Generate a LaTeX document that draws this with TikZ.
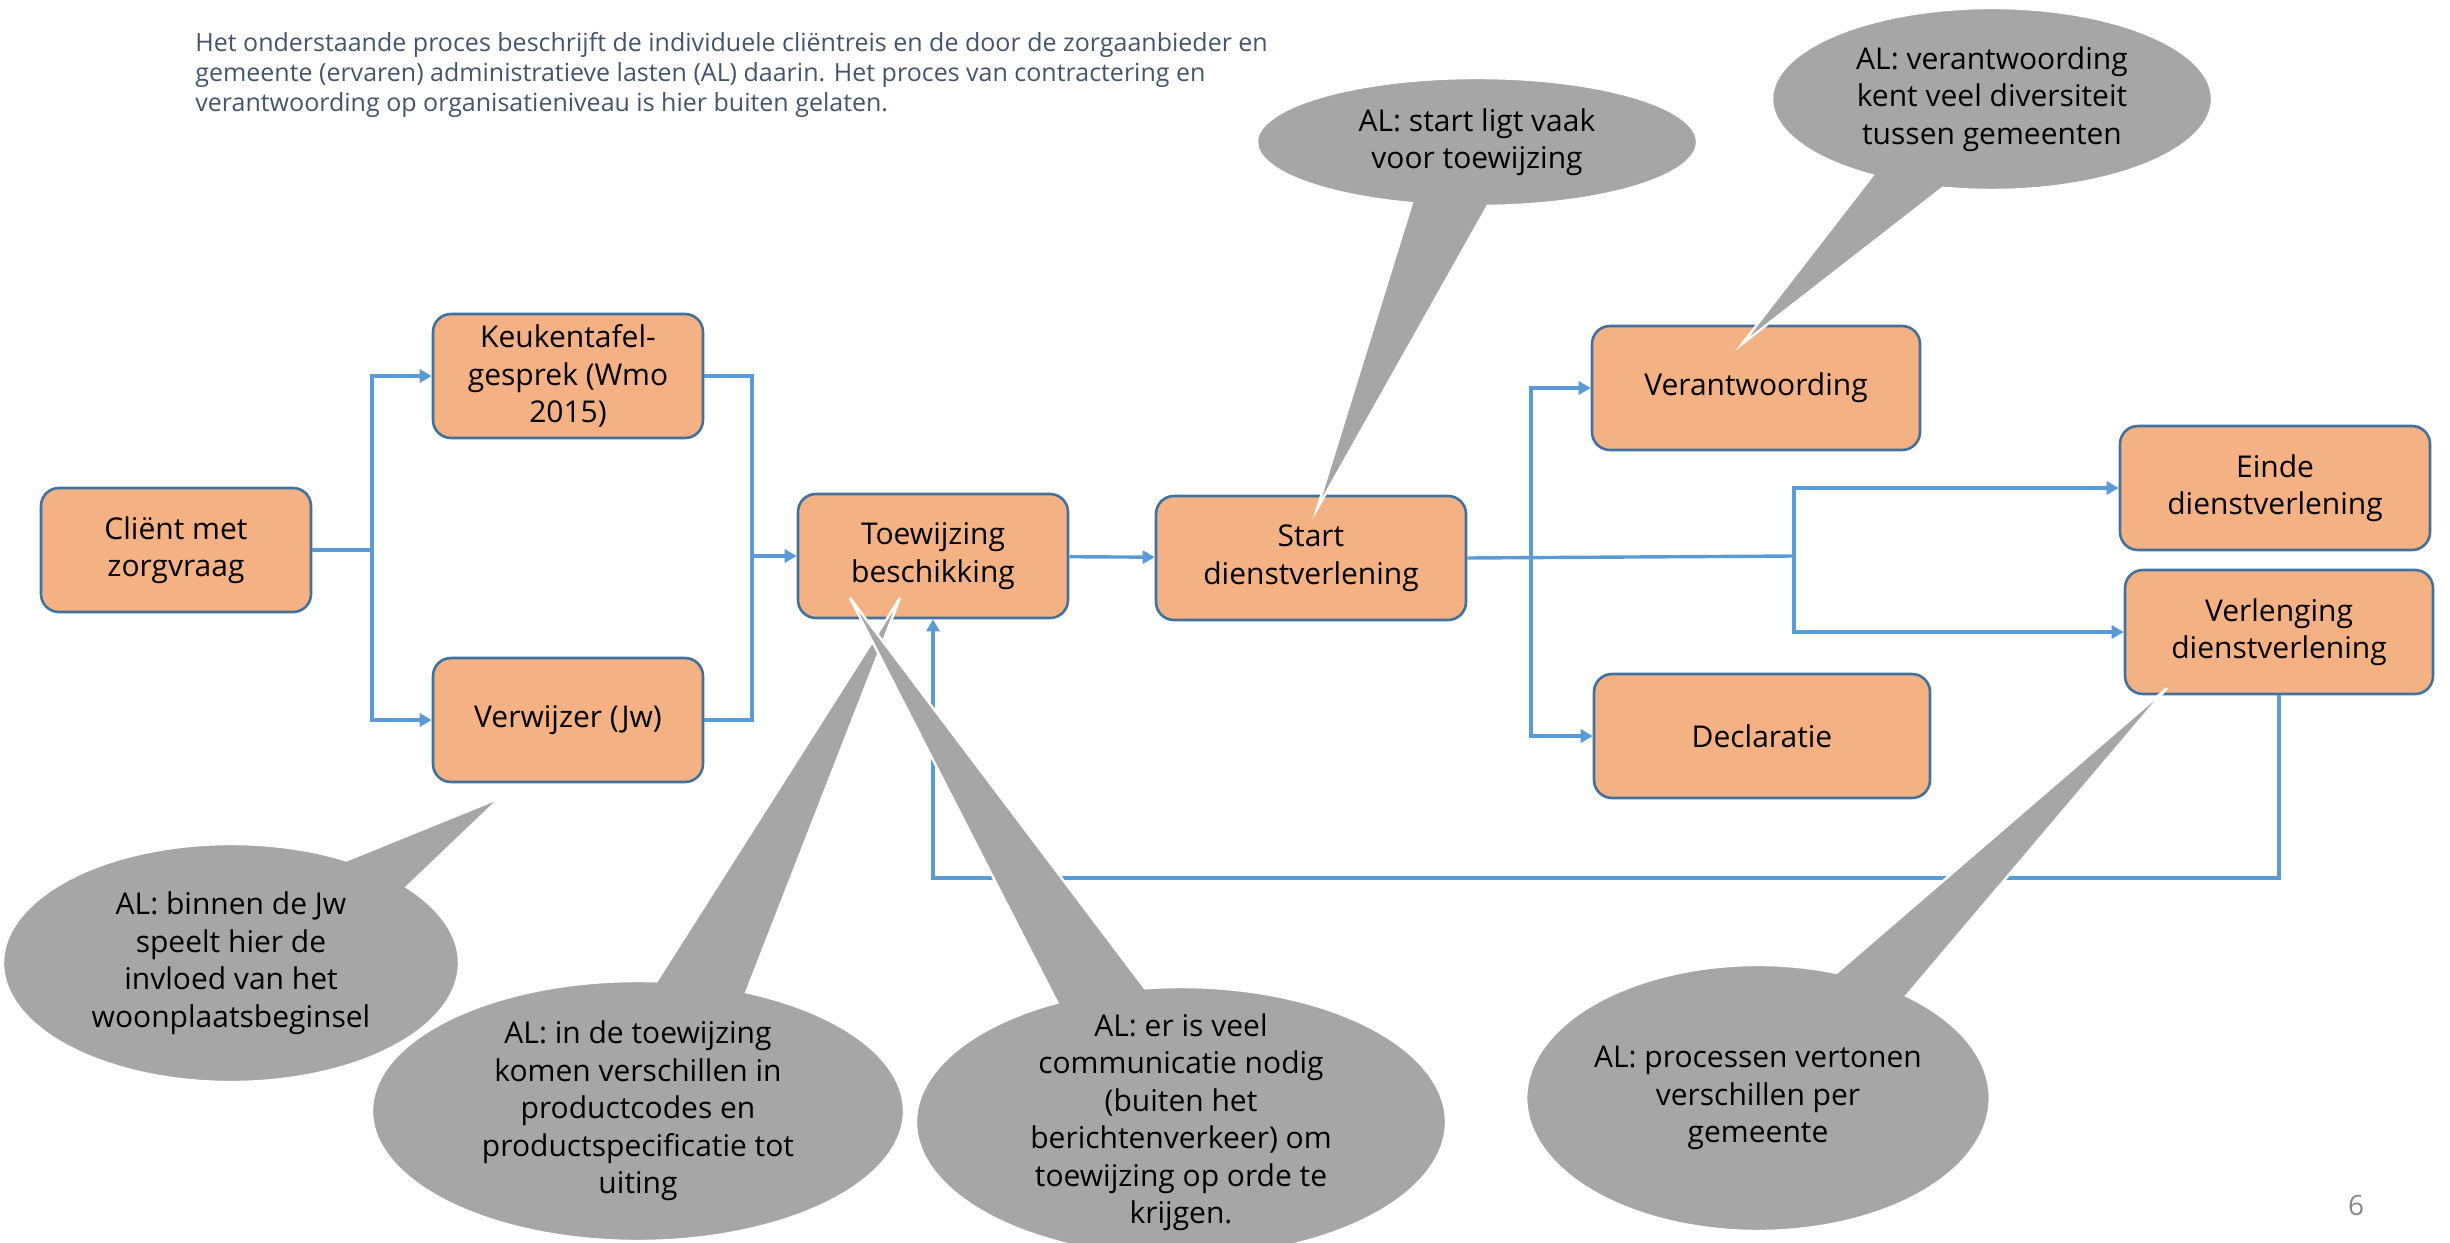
\documentclass[tikz,border=0pt]{standalone}
\usepackage{fontspec}
\setmainfont{Open Sans}
\usetikzlibrary{arrows.meta,shapes.callouts}
\definecolor{oranje}{HTML}{F4B183}
\definecolor{rand}{HTML}{41719C}
\definecolor{lijnblauw}{HTML}{5B9BD5}
\definecolor{wolk}{HTML}{A6A6A6}
\definecolor{koptekst}{HTML}{44546A}
\definecolor{paginagrijs}{HTML}{898989}

\tikzset{
  stap/.style={draw=rand, line width=1.3pt, fill=oranje, rounded corners=9pt,
    align=center, minimum height=62pt, inner sep=2pt,
    font=\fontsize{15}{18.75}\selectfont},
  lijn/.style={draw=lijnblauw, line width=1.7pt},
  pijl/.style={lijn, -{Triangle[length=6pt,width=6.5pt]}},
  opm/.style={ellipse callout, fill=wolk, draw=white, line width=1.2pt,
    align=center, inner xsep=0pt, inner ysep=-14pt, callout pointer arc=20,
    font=\fontsize{15}{18.75}\selectfont}
}

\begin{document}
\begin{tikzpicture}[x=0.5pt,y=-0.5pt]
\useasboundingbox (0,0) rectangle (2450,1242);

\node[anchor=north west, align=left, text=koptekst, font=\fontsize{12.5}{15}\selectfont, inner sep=0pt]
  (kop) at (195,32) {Het onderstaande proces beschrijft de individuele cliëntreis en de door de zorgaanbieder en\\
  gemeente (ervaren) administratieve lasten (AL) daarin. Het proces van contractering en\\
  verantwoording op organisatieniveau is hier buiten gelaten.};

% processtappen
\def\stappen{client/176/550/135/{Cliënt met\\zorgvraag},
  keuken/568/376/135/{Keukentafel-\\gesprek (Wmo\\2015)},
  verwijzer/568/720/135/{Verwijzer (Jw)},
  toew/933/556/135/{Toewijzing\\beschikking},
  start/1311/558/155/{Start\\dienstverlening},
  verant/1756/388/164/{Verantwoording},
  decl/1762/736/168/{Declaratie},
  einde/2275/488/155/{Einde\\dienstverlening},
  verleng/2279/632/154/{Verlenging\\dienstverlening}}
\foreach \naam/\x/\y/\w/\txt in \stappen
  \node[stap, minimum width=\w pt] (\naam) at (\x,\y) {\txt};

% verbindingen
\coordinate (s1) at (372,550);
\coordinate (s2) at (752,556);
\coordinate (s3) at (1531,556);
\coordinate (s4) at (1794,556);
\coordinate (terug) at (933,878);
\draw[lijn] (client) -- (s1);
\draw[pijl] (s1) |- (keuken);
\draw[pijl] (s1) |- (verwijzer);
\draw[lijn] (keuken) -| (s2);
\draw[lijn] (verwijzer) -| (s2);
\draw[pijl] (s2) -- (toew);
\draw[pijl] (toew) -- (start);
\draw[lijn] (start.east) -- (s4);
\draw[pijl] (s3) |- (verant);
\draw[pijl] (s3) |- (decl);
\draw[pijl] (s4) |- (einde);
\draw[pijl] (s4) |- (verleng);
\draw[pijl] (verleng) |- (terug) -- (toew);

% opmerkingen (AL)
\coordinate (tipA) at (1317,509);
\coordinate (tipB) at (1742,344);
\coordinate (tipC) at (500,798);
\coordinate (tipD) at (900,598);
\coordinate (tipE) at (850,598);
\coordinate (tipF) at (2167,688);

\node[opm, minimum width=220pt, minimum height=64pt, callout absolute pointer=(tipA)]
  (alA) at (1477,142) {AL: start ligt vaak\\voor toewijzing};
\node[opm, minimum width=220pt, minimum height=91pt, callout absolute pointer=(tipB)]
  (alB) at (1992,99) {AL: verantwoording\\kent veel diversiteit\\tussen gemeenten};
\node[opm, minimum width=228pt, minimum height=119pt, callout absolute pointer=(tipC)]
  (alC) at (231,963) {AL: binnen de Jw\\speelt hier de\\invloed van het\\woonplaatsbeginsel};
\node[opm, minimum width=266pt, minimum height=130pt, callout absolute pointer=(tipD)]
  (alD) at (638,1111) {AL: in de toewijzing\\komen verschillen in\\productcodes en\\productspecificatie tot\\uiting};
\node[opm, minimum width=265pt, minimum height=135pt, callout absolute pointer=(tipE)]
  (alE) at (1181,1122) {AL: er is veel\\communicatie nodig\\(buiten het\\berichtenverkeer) om\\toewijzing op orde te\\krijgen.};
\node[opm, minimum width=227pt, minimum height=133pt, callout absolute pointer=(tipF)]
  (alF) at (1758,1098) {AL: processen vertonen\\verschillen per\\gemeente};

\node[text=paginagrijs, font=\fontsize{14}{16}\selectfont] (paginanr) at (2356,1205) {6};
\end{tikzpicture}
\end{document}
